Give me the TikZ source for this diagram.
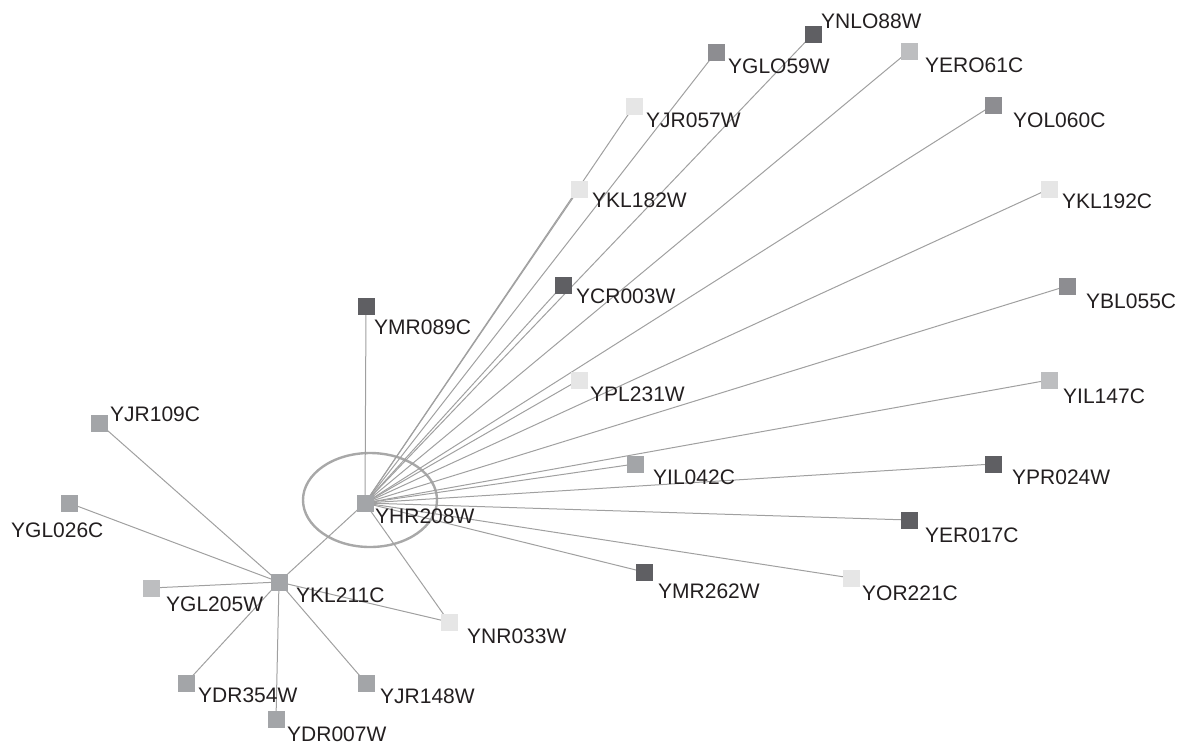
\documentclass[tikz,border=0pt]{standalone}
\usepackage{fontspec}
\setmainfont{Liberation Sans}
\usetikzlibrary{calc, backgrounds}

\definecolor{protdark}{HTML}{5F5F63}
\definecolor{protmed}{HTML}{8D8D91}
\definecolor{protmid}{HTML}{A3A5A8}
\definecolor{protlight}{HTML}{BDBEC0}
\definecolor{protpale}{HTML}{E6E6E6}
\definecolor{linkgray}{HTML}{A0A0A0}
\definecolor{ringgray}{HTML}{A8A8A8}
\definecolor{labelink}{HTML}{231F20}

\tikzset{
  prot/.style={minimum size=17pt, inner sep=0pt, outer sep=0pt},
  protlabel/.style={anchor=west, inner sep=0pt, text=labelink, font=\fontsize{21}{24}\selectfont},
  link/.style={draw=linkgray, line width=1pt},
}

\begin{document}
\begin{tikzpicture}[x=1pt, y=-1pt]
\useasboundingbox (0,0) rectangle (1177,744);

% proteins: name / x / y / fill / label offset
\foreach \n/\x/\y/\c/\dx/\dy in {
    YHR208W/365/503/protmid/10/13,
    YMR089C/366/306/protdark/8/21,
    YNLO88W/813/34/protdark/8/-13,
    YGLO59W/716/52/protmed/12/14,
    YERO61C/909/51/protlight/16/14,
    YJR057W/634/106/protpale/12/14,
    YOL060C/993/105/protmed/20/15,
    YKL182W/579/189/protpale/13/11,
    YKL192C/1049/189/protpale/13/12,
    YCR003W/563/285/protdark/13/11,
    YBL055C/1067/286/protmed/19/15,
    YPL231W/579/380/protpale/11/14,
    YIL147C/1049/380/protlight/14/16,
    YIL042C/635/464/protmid/18/13,
    YPR024W/993/464/protdark/19/13,
    YER017C/909/520/protdark/16/15,
    YMR262W/644/572/protdark/14/19,
    YOR221C/851/578/protpale/11/15,
    YNR033W/449/622/protpale/18/14,
    YKL211C/279/582/protmid/17/13,
    YJR109C/99/423/protmid/11/-9,
    YGL026C/69/503/protmid/-58/27,
    YGL205W/151/588/protlight/15/16,
    YDR354W/186/683/protmid/12/12,
    YJR148W/366/683/protmid/14/13,
    YDR007W/276/719/protmid/11/15}
{
  \node[prot, fill=\c] (\n) at (\x,\y) {};
  \node[protlabel] (\n-lbl) at ($(\n)+(\dx,\dy)$) {\n};
}

\begin{scope}[on background layer]
  \draw[ringgray, line width=2.4pt] (370,500) ellipse (67 and 47);
  \foreach \t in {YMR089C, YNLO88W, YGLO59W, YERO61C, YJR057W, YOL060C,
                  YKL182W, YKL192C, YCR003W, YBL055C, YPL231W, YIL147C,
                  YIL042C, YPR024W, YER017C, YMR262W, YOR221C, YNR033W, YKL211C}
    \draw[link] (YHR208W.center) -- (\t.center);
  \foreach \t in {YJR109C, YGL026C, YGL205W, YDR354W, YDR007W, YJR148W, YNR033W}
    \draw[link] (YKL211C.center) -- (\t.center);
\end{scope}
\end{tikzpicture}
\end{document}
